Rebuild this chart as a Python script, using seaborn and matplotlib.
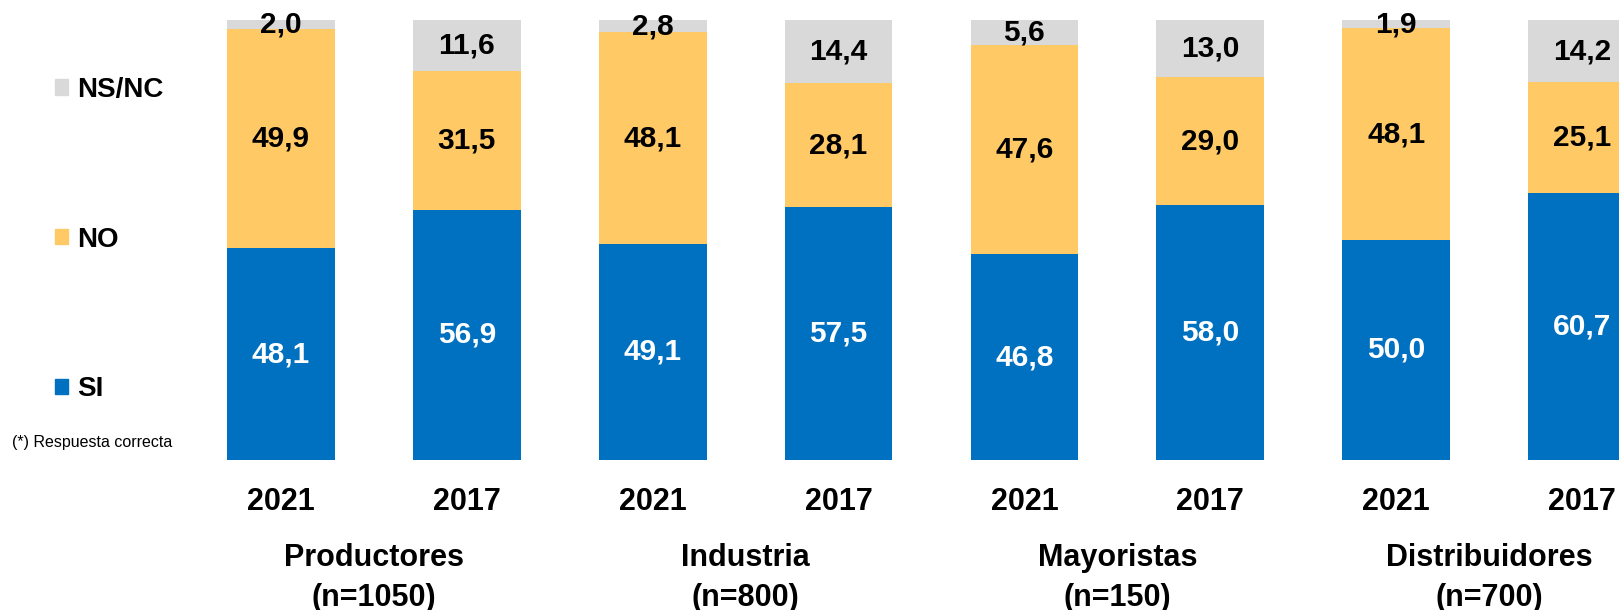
import matplotlib
matplotlib.use("Agg")
import matplotlib.pyplot as plt
from matplotlib.patches import Patch
import seaborn as sns
import pandas as pd

# Survey results (%), one bar per group and year
groups = ["Productores", "Industria", "Mayoristas", "Distribuidores"]
group_n = ["(n=1050)", "(n=800)", "(n=150)", "(n=700)"]
years = ["2021", "2017"]
si = [48.1, 56.9, 49.1, 57.5, 46.8, 58.0, 50.0, 60.7]
no = [49.9, 31.5, 48.1, 28.1, 47.6, 29.0, 48.1, 25.1]
nsnc = [2.0, 11.6, 2.8, 14.4, 5.6, 13.0, 1.9, 14.2]

BLUE = "#0070C0"
YELLOW = "#FFCA66"
GRAY = "#D9D9D9"

sns.set_theme(style="white")
plt.rcParams["font.family"] = ["Liberation Sans", "DejaVu Sans"]
plt.rcParams["text.color"] = "black"
plt.rcParams["xtick.color"] = "black"

keys = [f"{g} {y}" for g in groups for y in years]
df = pd.DataFrame({
    "key": keys,
    "si": si,
    "no": no,
    "nsnc": nsnc,
})
df["si_no"] = df["si"] + df["no"]
df["total"] = df["si_no"] + df["nsnc"]

W, H = 1619, 610
fig = plt.figure(figsize=(W / 100, H / 100), dpi=100)
# axes: x range -0.5..7.5 spans px 188..1675 (runs past the right edge)
ax = fig.add_axes([188 / W, 150 / H, 1487 / W, 440 / H])

bw = 0.58
for col, colr in (("total", GRAY), ("si_no", YELLOW), ("si", BLUE)):
    sns.barplot(data=df, x="key", y=col, order=keys, color=colr, saturation=1,
                width=bw, linewidth=0, ax=ax, errorbar=None)

ax.set_xlim(-0.5, 7.5)
ax.set_ylim(0, 100)
for s in ax.spines.values():
    s.set_visible(False)
ax.set_xlabel("")
ax.set_ylabel("")
ax.set_yticks([])

def fmt(v):
    return f"{v:.1f}".replace(".", ",")

VAL_FS = 21.5
for i, row in df.iterrows():
    ax.text(i, row["si"] / 2, fmt(row["si"]), ha="center", va="center",
            color="white", fontsize=VAL_FS, fontweight="bold")
    ax.text(i, row["si"] + row["no"] / 2, fmt(row["no"]), ha="center", va="center",
            color="black", fontsize=VAL_FS, fontweight="bold")
    ax.text(i, row["si_no"] + row["nsnc"] / 2, fmt(row["nsnc"]), ha="center", va="center",
            color="black", fontsize=VAL_FS, fontweight="bold")

ax.set_xticks(range(len(keys)))
ax.set_xticklabels([y for _ in groups for y in years], fontsize=22, fontweight="bold")
ax.tick_params(axis="x", length=0, pad=19.5)

xt = ax.get_xaxis_transform()
for j, (g, n) in enumerate(zip(groups, group_n)):
    ax.text(2 * j + 0.5, (460 - 558) / 440, g, transform=xt, ha="center", va="center",
            fontsize=22, fontweight="bold")
    ax.text(2 * j + 0.5, (460 - 598) / 440, n, transform=xt, ha="center", va="center",
            fontsize=22, fontweight="bold")

handles = [Patch(color=GRAY, label="NS/NC"), Patch(color=YELLOW, label="NO"),
           Patch(color=BLUE, label="SI")]
fig.legend(handles=handles, loc="upper left", bbox_to_anchor=(55 / W, 1 - 77 / H),
           frameon=False, prop={"size": 20, "weight": "bold"},
           handlelength=0.47, handleheight=0.47, handletextpad=0.32,
           labelspacing=4.45, borderaxespad=0, borderpad=0)

fig.text(12 / W, 1 - 442 / H, "(*) Respuesta correcta", ha="left", va="center",
         fontsize=11.5)

fig.savefig("out.png", dpi=100)
